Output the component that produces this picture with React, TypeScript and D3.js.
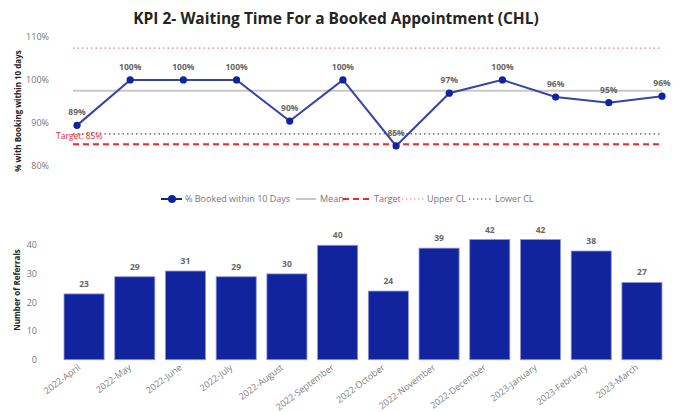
import React from 'react';
import * as d3 from 'd3';

const months = ['2022-April', '2022-May', '2022-June', '2022-July', '2022-August', '2022-September', '2022-October', '2022-November', '2022-December', '2023-January', '2023-February', '2023-March'];
const pctBooked = [89.4, 100, 100, 100, 90.4, 100, 84.6, 96.9, 100, 96.0, 94.7, 96.2];
const referrals = [23, 29, 31, 29, 30, 40, 24, 39, 42, 42, 38, 27];
const meanPct = 97.5;
const targetPct = 85;
const upperCL = 107.4;
const lowerCL = 87.4;
const pctTicks = [80, 90, 100, 110];
const refTicks = [0, 10, 20, 30, 40];
const legendItems = ['% Booked within 10 Days', 'Mean', 'Target', 'Upper CL', 'Lower CL'];

const FONT = '"Open Sans", "Noto Sans", sans-serif';
const BLUE = '#12239E';
const GRAY = '#666666';

export default function App() {
  // top line chart
  const x1 = d3.scalePoint<string>().domain(months).range([77, 662]);
  const y1 = d3.scaleLinear().domain([80, 110]).range([165.7, 37]);
  const line = d3.line<number>().x((d, i) => x1(months[i]) as number).y(d => y1(d));
  const refX0 = 73, refX1 = 662;

  // bottom bar chart
  const x2 = d3.scaleBand<string>().domain(months).range([58.7, 667.3]).paddingInner(0.21).paddingOuter(0.105);
  const y2 = d3.scaleLinear().domain([0, 40]).range([359.7, 245.3]);

  const legendX = [161, 296, 343, 402, 469];
  const legendTextX = [185, 320, 374, 427, 495];
  const ly = 199;

  return (
    <svg width={680} height={412} style={{ position: 'absolute', left: 0, top: 0, background: '#fff' }} fontFamily={FONT}>
      <text x={336} y={24} textAnchor="middle" fontSize={15.5} fontWeight={700} fill="#252423">
        KPI 2- Waiting Time For a Booked Appointment (CHL)
      </text>

      {/* top y axis */}
      {pctTicks.map(t => (
        <text key={t} x={49} y={y1(t)} dy="0.35em" textAnchor="end" fontSize={9} fill="#777">{t}%</text>
      ))}
      <text transform="translate(21,111) rotate(-90)" textAnchor="middle" fontSize={8} fontWeight={700} fill="#252423">
        % with Booking within 10 days
      </text>

      {/* reference lines */}
      <line x1={refX0} x2={refX1} y1={y1(upperCL)} y2={y1(upperCL)} stroke="#f07c7c" strokeWidth={1.2} strokeDasharray="1.5 3" />
      <line x1={refX0} x2={refX1} y1={y1(meanPct)} y2={y1(meanPct)} stroke="#c8c8c8" strokeWidth={2} />
      <line x1={refX0} x2={refX1} y1={y1(lowerCL)} y2={y1(lowerCL)} stroke="#555" strokeWidth={1.2} strokeDasharray="1.5 3" />
      <line x1={refX0} x2={refX1} y1={y1(targetPct)} y2={y1(targetPct)} stroke="#f0282d" strokeWidth={2} strokeDasharray="6 4" />
      <text x={56} y={y1(targetPct) - 5} fontSize={8.5} fill="#f0282d">Target: {targetPct}%</text>

      <path d={line(pctBooked) || ''} fill="none" stroke="#3543AA" strokeWidth={2} />
      {pctBooked.map((v, i) => (
        <g key={i}>
          <circle cx={x1(months[i])} cy={y1(v)} r={3.6} fill={BLUE} />
          <text x={x1(months[i])} y={y1(v) - 10} textAnchor="middle" fontSize={8.5} fontWeight={700} fill={GRAY}>
            {Math.round(v)}%
          </text>
        </g>
      ))}

      {/* legend */}
      <g fontSize={9} fill="#777">
        <line x1={legendX[0]} x2={legendX[0] + 21} y1={ly} y2={ly} stroke={BLUE} strokeWidth={2} />
        <circle cx={legendX[0] + 11} cy={ly} r={4} fill={BLUE} />
        <line x1={legendX[1]} x2={legendX[1] + 20} y1={ly} y2={ly} stroke="#c8c8c8" strokeWidth={2} />
        <line x1={legendX[2]} x2={legendX[2] + 28} y1={ly} y2={ly} stroke="#f0282d" strokeWidth={2} strokeDasharray="6 4" />
        <line x1={legendX[3]} x2={legendX[3] + 22} y1={ly} y2={ly} stroke="#f07c7c" strokeWidth={1.2} strokeDasharray="1.5 2.5" />
        <line x1={legendX[4]} x2={legendX[4] + 22} y1={ly} y2={ly} stroke="#555" strokeWidth={1.2} strokeDasharray="1.5 2.5" />
        {legendItems.map((l, i) => (
          <text key={l} x={legendTextX[i]} y={ly} dy="0.35em" fill="#777">{l}</text>
        ))}
      </g>

      {/* bottom y axis */}
      {refTicks.map(t => (
        <text key={t} x={37} y={y2(t)} dy="0.35em" textAnchor="end" fontSize={9} fill="#777">{t}</text>
      ))}
      <text transform="translate(20,290) rotate(-90)" textAnchor="middle" fontSize={8} fontWeight={700} fill="#252423">
        Number of Referrals
      </text>

      {referrals.map((v, i) => {
        const bx = x2(months[i]) as number;
        const bw = x2.bandwidth();
        return (
          <g key={months[i]}>
            <rect x={bx} y={y2(v)} width={bw} height={y2(0) - y2(v)} fill={BLUE} stroke="#8d95d2" strokeWidth={0.8} />
            <text x={bx + bw / 2} y={y2(v) - 7} textAnchor="middle" fontSize={8.5} fontWeight={700} fill={GRAY}>{v}</text>
            <text transform={`translate(${bx + bw / 2 - 3},${y2(0) + 9}) rotate(-37)`} textAnchor="end" fontSize={9} fill="#808080">
              {months[i]}
            </text>
          </g>
        );
      })}
    </svg>
  );
}
